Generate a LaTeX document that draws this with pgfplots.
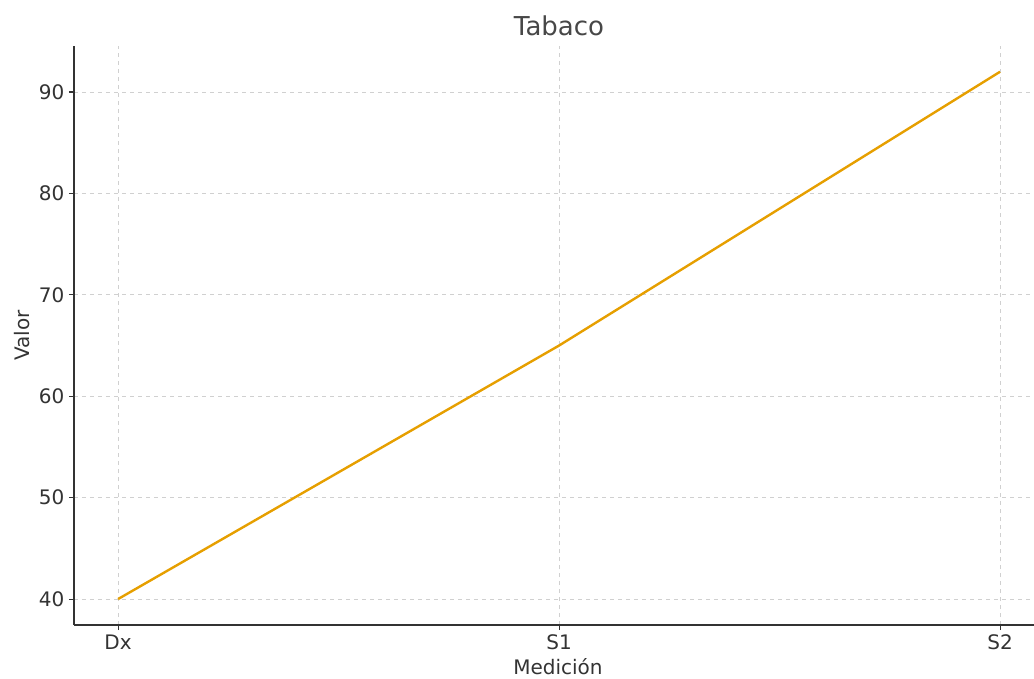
\documentclass[border=0pt]{standalone}
\usepackage{pgfplots}
\pgfplotsset{compat=1.18}
\usepackage{fontspec}
\setmainfont{DejaVu Sans}
\definecolor{txt}{HTML}{333333}
\definecolor{linec}{HTML}{E69F00}
\definecolor{gridc}{HTML}{D0D0D0}
\begin{document}
\begin{tikzpicture}[x=0.75pt,y=0.75pt]
\begin{axis}[
  name=ax, at={(0,0)}, anchor=south west,
  scale only axis, width=720pt, height=434.25pt,
  xmin=-0.1, xmax=2.077, ymin=37.44, ymax=94.54,
  axis x line*=bottom, axis y line*=left,
  axis line style={color=txt, line width=1.1pt},
  xtick={0,1,2}, xticklabels={Dx,S1,S2},
  ytick={40,50,60,70,80,90},
  tick align=outside, major tick length=3.75pt,
  tick style={color=txt, line width=0.8pt},
  grid=major,
  major grid style={gridc, dashed, line width=0.6pt},
  /pgf/number format/assume math mode=true,
  ticklabel style={font=\fontsize{15}{18}\selectfont, color=txt},
  xlabel={Medición}, ylabel={Valor},
  label style={font=\fontsize{15}{18}\selectfont, color=txt},
  xlabel style={at={(axis description cs:0.5,0)}, anchor=center, yshift=-31.5pt, xshift=3pt},
  ylabel style={at={(axis description cs:0,0.5)}, anchor=center, xshift=0pt, yshift=39pt},
  clip=false,
]
\addplot[color=linec, line width=1.8pt] coordinates {(0,40) (1,65) (2,92)};
\end{axis}
\node[font=\fontsize{19.5}{23}\selectfont, color=txt!90!white] at (485,599) {Tabaco};
\pgfresetboundingbox
\path (-74,-53) rectangle (960,625);
\end{tikzpicture}
\end{document}
